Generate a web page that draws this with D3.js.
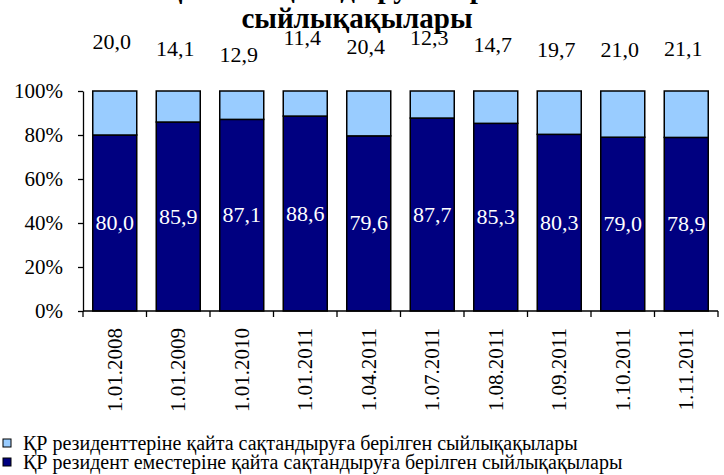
<!DOCTYPE html>
<html>
<head>
<meta charset="utf-8">
<script src="https://cdn.jsdelivr.net/npm/d3@7"></script>
<style>
  @font-face { font-family: "ChartSerif"; font-weight: normal; src: local("Liberation Serif"), local("LiberationSerif"), local("Tinos"), local("Times New Roman"); }
  @font-face { font-family: "ChartSerif"; font-weight: bold; src: local("Liberation Serif Bold"), local("LiberationSerif-Bold"), local("Tinos Bold"), local("Times New Roman Bold"); }
</style>
</head>
<body style="margin:0">
<script>
// categories and series (percent shares)
const dates = ["1.01.2008", "1.01.2009", "1.01.2010", "1.01.2011", "1.04.2011",
               "1.07.2011", "1.08.2011", "1.09.2011", "1.10.2011", "1.11.2011"];
const nonResident = [80.0, 85.9, 87.1, 88.6, 79.6, 87.7, 85.3, 80.3, 79.0, 78.9];
const resident = [20.0, 14.1, 12.9, 11.4, 20.4, 12.3, 14.7, 19.7, 21.0, 21.1];
const yTicks = [0, 20, 40, 60, 80, 100];
const legendLabels = [
    "ҚР резиденттеріне қайта сақтандыруға берілген сыйлықақылары",
    "ҚР резидент еместеріне қайта сақтандыруға берілген сыйлықақылары"
];

// label offsets above the plot top (labels were hand-placed in the original)
const topLabelGap = [42, 35, 29, 46, 37, 46, 39, 34, 34, 35];

const FONT = '"Liberation Serif", ChartSerif, "Times New Roman", Tinos, serif';
const width = 724;
const height = 475;
const margin = { top: 91, right: 6, bottom: 164, left: 83 };

const svg = d3.select("body")
    .append("svg")
    .attr("width", width)
    .attr("height", height)
    .style("display", "block")
    .style("font-family", FONT);

// helper so every text gets the serif face
function serif(sel) {
    return sel.style("font-family", FONT);
}

const x = d3.scaleBand()
    .domain(dates)
    .range([margin.left, width - margin.right])
    .padding(0);

const y = d3.scaleLinear()
    .domain([0, 100])
    .range([height - margin.bottom, margin.top]);

const barW = x.bandwidth() * 0.693;

const table = dates.map((d, i) => ({ date: d, nonres: nonResident[i], res: resident[i] }));
const series = d3.stack().keys(["nonres", "res"])(table);
const colors = { nonres: "#000080", res: "#99ccff" };

// title (first line is cut off by the top edge in the original)
serif(svg.append("text"))
    .attr("x", 357).attr("y", -2)
    .attr("text-anchor", "middle")
    .attr("font-size", 29).attr("font-weight", "bold")
    .text("Қайта сақтандыруға берілген");
serif(svg.append("text"))
    .attr("x", 357).attr("y", 28)
    .attr("text-anchor", "middle")
    .attr("font-size", 29).attr("font-weight", "bold")
    .text("сыйлықақылары");

// bars
svg.append("g")
    .selectAll("g")
    .data(series)
    .join("g")
    .attr("fill", s => colors[s.key])
    .selectAll("rect")
    .data(s => s)
    .join("rect")
    .attr("x", d => x(d.data.date) + (x.bandwidth() - barW) / 2)
    .attr("y", d => y(d[1]))
    .attr("width", barW)
    .attr("height", d => y(d[0]) - y(d[1]))
    .attr("stroke", "#000")
    .attr("stroke-width", 1.5);

// y axis
const yAxis = svg.append("g")
    .attr("transform", `translate(${margin.left},0)`)
    .call(d3.axisLeft(y).tickValues(yTicks).tickSize(5).tickSizeOuter(0)
        .tickFormat(d => d + "%"));
yAxis.attr("font-family", null);
yAxis.select(".domain").attr("stroke", "#000").attr("stroke-width", 1.3);
yAxis.selectAll(".tick line").attr("stroke", "#000").attr("stroke-width", 1.3);
serif(yAxis.selectAll(".tick text"))
    .attr("x", -20)
    .attr("font-size", 21)
    .attr("fill", "#000");

// x axis line and category boundary ticks
const y0 = y(0);
svg.append("line")
    .attr("x1", margin.left).attr("x2", width - margin.right)
    .attr("y1", y0).attr("y2", y0)
    .attr("stroke", "#000").attr("stroke-width", 1.3);
svg.append("g")
    .selectAll("line")
    .data(dates.concat(["end"]))
    .join("line")
    .attr("x1", (d, i) => i < dates.length ? x(d) : x.range()[1])
    .attr("x2", (d, i) => i < dates.length ? x(d) : x.range()[1])
    .attr("y1", y0).attr("y2", y0 + 6)
    .attr("stroke", "#000").attr("stroke-width", 1.3);

// rotated date labels
serif(svg.append("g")
    .selectAll("text")
    .data(dates)
    .join("text"))
    .attr("transform", d => `translate(${x(d) + x.bandwidth() / 2 + 7},${y0 + 17}) rotate(-90)`)
    .attr("text-anchor", "end")
    .attr("font-size", 21)
    .text(d => d);

// value labels inside dark segments
serif(svg.append("g")
    .selectAll("text")
    .data(series[0])
    .join("text"))
    .attr("x", d => x(d.data.date) + x.bandwidth() / 2)
    .attr("y", d => y((d[0] + d[1]) / 2) + 7)
    .attr("text-anchor", "middle")
    .attr("font-size", 22)
    .attr("fill", "#fff")
    .text(d => d3.format(".1f")(d.data.nonres).replace(".", ","));

// value labels above the chart for the light segments
serif(svg.append("g")
    .selectAll("text")
    .data(table)
    .join("text"))
    .attr("x", d => x(d.date) + x.bandwidth() / 2 - 3)
    .attr("y", (d, i) => margin.top - topLabelGap[i])
    .attr("text-anchor", "middle")
    .attr("font-size", 22)
    .attr("fill", "#000")
    .text(d => d3.format(".1f")(d.res).replace(".", ","));

// legend
const legend = svg.append("g");
const legendKeys = ["res", "nonres"];
legendKeys.forEach((k, i) => {
    const ly = 450 + i * 19;
    legend.append("rect")
        .attr("x", 3).attr("y", ly - 11)
        .attr("width", 8).attr("height", 8)
        .attr("fill", colors[k])
        .attr("stroke", "#000").attr("stroke-width", 1);
    serif(legend.append("text"))
        .attr("x", 23).attr("y", ly)
        .attr("font-size", 20)
        .text(legendLabels[i]);
});
</script>
</body>
</html>
